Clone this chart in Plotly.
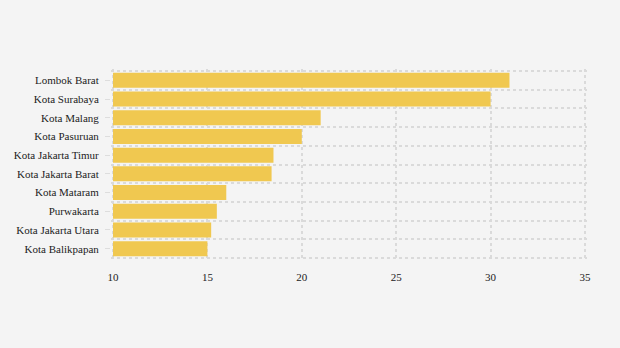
import plotly.graph_objects as go

categories = ["Lombok Barat", "Kota Surabaya", "Kota Malang", "Kota Pasuruan",
              "Kota Jakarta Timur", "Kota Jakarta Barat", "Kota Mataram",
              "Purwakarta", "Kota Jakarta Utara", "Kota Balikpapan"]
values = [31.0, 30.0, 21.0, 20.0, 18.5, 18.4, 16.0, 15.5, 15.2, 15.0]
x_ticks = [10, 15, 20, 25, 30, 35]
axis_start = 10

n = len(categories)
ypos = list(range(n))

fig = go.Figure(go.Bar(
    x=[v - axis_start for v in values], base=axis_start, y=ypos, orientation="h",
    marker=dict(color="#F0C850", line=dict(width=0)),
    width=0.8,
))

grid = "#DADADA"
fig.update_layout(
    width=620, height=348,
    margin=dict(l=111, r=33, t=69, b=88),
    paper_bgcolor="#F4F4F4", plot_bgcolor="#F4F4F4",
    font=dict(family="Liberation Serif, serif", size=11, color="#222222"),
    showlegend=False,
    bargap=0.2,
)
fig.update_xaxes(
    range=[9.894, 35.106], tickvals=x_ticks, showgrid=True, gridcolor=grid,
    griddash="dot", gridwidth=1.6, zeroline=False, showline=False,
    ticks="outside", ticklen=7, tickcolor="rgba(0,0,0,0)",
    tickfont=dict(family="Liberation Serif, serif", size=11, color="#222222"),
)
fig.update_yaxes(
    range=[n - 0.393, -0.607], tickvals=ypos, ticktext=categories,
    showgrid=False, zeroline=False, showline=False,
    ticks="outside", ticklen=5, tickcolor="#DDDDDD", ticklabelstandoff=4,
    tickfont=dict(family="Liberation Serif, serif", size=11, color="#222222"),
    minor=dict(tickvals=[i - 0.5 for i in range(n + 1)], showgrid=True,
               gridcolor=grid, griddash="dot", gridwidth=1.6, ticks=""),
)
fig.write_html("out.html")
